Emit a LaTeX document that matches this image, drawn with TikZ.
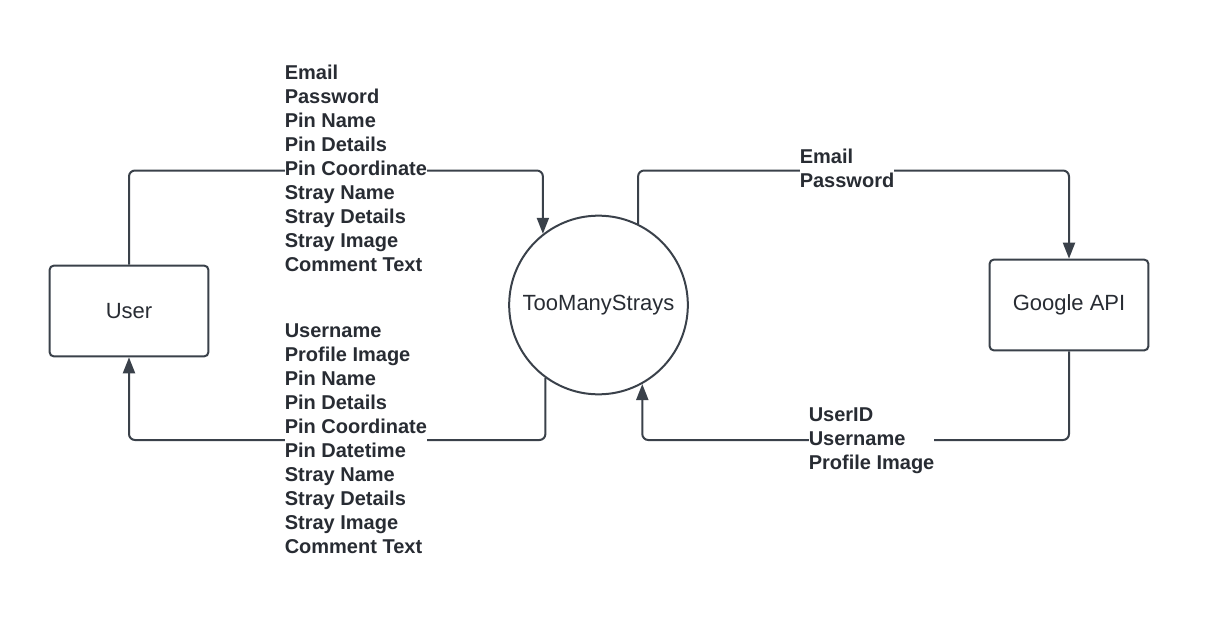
\documentclass[tikz,border=0pt]{standalone}
\usepackage{fontspec}
\setmainfont{Liberation Sans}
\usetikzlibrary{arrows.meta}

\definecolor{lineclr}{RGB}{58,65,74}
\definecolor{textclr}{RGB}{40,44,51}

\tikzset{
    entity/.style={draw=lineclr, line width=1.5pt, rounded corners=3pt,
        fill=white, text=textclr,
        minimum width=119pt, minimum height=68pt,
        font=\fontsize{16.5}{20}\selectfont},
    process/.style={draw=lineclr, line width=1.5pt, circle, inner sep=0pt,
        fill=white, text=textclr, minimum size=134pt,
        font=\fontsize{16.5}{20}\selectfont},
    flow/.style={draw=lineclr, line width=1.5pt, rounded corners=4.5pt,
        -{Triangle[length=12pt,width=9pt]}},
    datalabel/.style={fill=white, inner sep=0pt, anchor=west, align=left,
        text=textclr, font=\fontsize{15}{18}\selectfont\bfseries},
}

\begin{document}
\begin{tikzpicture}[x=0.75pt,y=-0.75pt]
        \useasboundingbox (0,0) rectangle (1232,642);

        % User
        \node [entity] (user) at (129,311){User};

        % TooManyStrays
        \node [process] (tms) at (598.5,305){TooManyStrays};

        % Google API
        \node [entity] (google) at (1069,305){Google API};

        \coordinate (topline) at (0,170.5);
        \coordinate (botline) at (0,440);

        % flows
        \draw[flow] (user.north) |- (topline -| tms.128) -- (tms.128);
        \draw[flow] (tms.234) -- (tms.234 |- botline) -| (user.south);
        \draw[flow] (tms.64) -- (tms.64 |- topline) -| (google.north);
        \draw[flow] (google.south) |- (botline -| tms.299) -- (tms.299);

        % data on the flows
        \node [datalabel] (userdata) at (284.5,168.5){Email\\Password\\Pin Name\\Pin Details\\Pin Coordinate\\Stray Name\\Stray Details\\Stray Image\\Comment Text};
        \node [datalabel] (appdata) at (284.5,439){Username\\Profile Image\\Pin Name\\Pin Details\\Pin Coordinate\\Pin Datetime\\Stray Name\\Stray Details\\Stray Image\\Comment Text};
        \node [datalabel] (logindata) at (799.5,168.5){Email\\Password};
        \node [datalabel] (googledata) at (808.5,440.5){UserID\\Username\\Profile Image};
\end{tikzpicture}
\end{document}
